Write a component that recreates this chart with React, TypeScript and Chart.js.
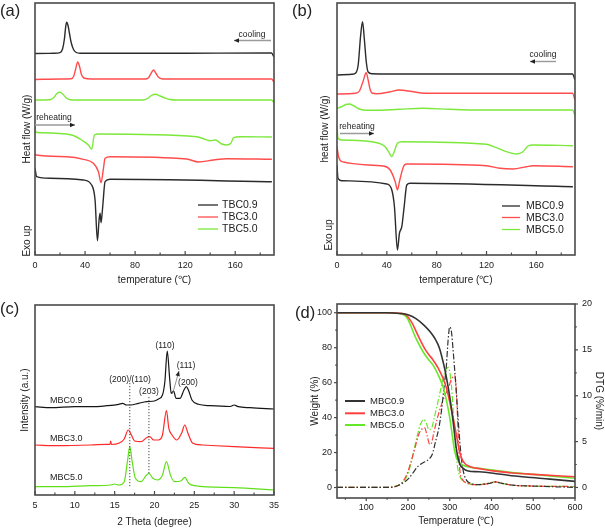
import React, { useEffect, useRef } from 'react';
import { Chart, registerables } from 'chart.js';
Chart.register(...registerables);

const FONT = '"Liberation Sans", Arial, Helvetica, sans-serif';
const TXT = '#222';
const FRAME = '#4a4a4a';

// ---------------- (a) DSC, TBC samples ----------------
const A_LABELS = ['TBC0.9', 'TBC3.0', 'TBC5.0'];
const aCoolBlackT = [0, 15, 20, 22, 23.5, 24.5, 25.3, 26.3, 27.5, 29, 31, 33, 36, 60, 120, 189, 191];
const aCoolBlackH = [201.5, 201.7, 202.3, 206, 216, 228, 232.7, 230, 222, 212, 205, 202.5, 201.8, 201.7, 201.8, 202, 198];
const aCoolRedT = [0, 20, 29, 31, 32.5, 34.1, 35.5, 37, 39, 45, 88, 90.5, 92.5, 94.7, 96.5, 98.5, 101, 110, 189, 191];
const aCoolRedH = [175.5, 176, 176.3, 179, 186, 193, 189, 181, 177, 176, 176, 177, 181, 185, 182, 178, 176.3, 176, 176, 173];
const aCoolGreenT = [0, 12, 15, 17.5, 20, 22.5, 25, 28, 35, 86, 90, 93, 96.5, 100, 104, 108, 113, 189, 191];
const aCoolGreenH = [155, 155.3, 157.5, 161.5, 162.7, 160.5, 157, 155.3, 155, 155, 156.5, 159.5, 160.7, 159, 157, 155.5, 155, 155, 152.5];
const aHeatGreenT = [0, 0.5, 4, 29.3, 37.3, 42.7, 45.3, 47.5, 50.7, 129.3, 136, 140, 144, 149.3, 153.3, 156.5, 158.7, 164, 189.3];
const aHeatGreenH = [129, 123, 122.3, 120, 115, 110, 106, 120, 121, 118.3, 115.7, 114.3, 115, 111, 110, 111.7, 117.3, 118.3, 118];
const aHeatRedT = [0, 0.8, 25.3, 38.7, 46.7, 50.7, 52.8, 54.7, 56, 60, 121.3, 130.7, 142.7, 153.3, 189.3];
const aHeatRedH = [101, 100, 98.3, 95.7, 91.7, 83.3, 72.3, 86.7, 96.7, 98.3, 96, 93, 95, 96.3, 95.7];
const aHeatBlackT = [0, 1.3, 12, 38.7, 45.3, 48, 49.9, 51.2, 52, 52.8, 54.1, 56, 60, 189.3];
const aHeatBlackH = [86.7, 78.3, 76.7, 75, 70, 55, 14.3, 35, 41.7, 32.3, 48.3, 73.3, 75.7, 73.3];

// ---------------- (b) DSC, MBC samples ----------------
const B_LABELS = ['MBC0.9', 'MBC3.0', 'MBC5.0'];
const bCoolBlackT = [0, 12, 15, 17, 19, 20.5, 22, 23.5, 25, 28, 60, 189, 191];
const bCoolBlackH = [180, 180.7, 182, 190, 220, 233.3, 215, 193, 183, 181.3, 181, 181, 175];
const bCoolRedT = [0, 15, 18, 21, 23.4, 25, 26.5, 28, 32, 42, 50, 60, 70, 189, 191];
const bCoolRedH = [161, 161.7, 164, 174, 182.3, 175, 166, 162, 161.3, 163, 165, 163.5, 161.7, 161.7, 155];
const bCoolGreenT = [0, 4, 7, 10, 13, 17, 21, 30, 50, 69, 90, 110, 189, 191];
const bCoolGreenH = [146.5, 148.5, 150.5, 151, 149.5, 146.5, 145, 144.7, 145.7, 146.7, 145.7, 145, 145, 140];
const bHeatGreenT = [0, 0.8, 4, 32, 38.7, 42.1, 44, 45.9, 48.5, 52, 120, 128, 136, 144, 149.3, 153.3, 157.3, 189.3];
const bHeatGreenH = [129, 116.7, 115, 112.3, 108.3, 101.7, 98.3, 103.3, 111.7, 113.3, 110.7, 107.3, 103.3, 101, 103.3, 109, 110, 109.3];
const bHeatRedT = [0, 1.3, 4, 37.3, 42.7, 46.7, 48.5, 50.1, 53.3, 56, 120, 130.7, 141.3, 152, 157.3, 189.3];
const bHeatRedH = [108.3, 98.3, 93.3, 89, 85, 73.3, 65, 73.3, 88.3, 91, 89.3, 86.7, 86, 88.3, 89.3, 88.3];
const bHeatBlackT = [0, 0.8, 4, 40, 44, 46.1, 48.5, 50.1, 52, 53.9, 56, 58.7, 189.3];
const bHeatBlackH = [90, 76.7, 74.3, 71, 65, 48.3, 5, 21.7, 28.3, 48.3, 70, 71.7, 68.3];

// ---------------- (c) XRD ----------------
const C_LABELS = ['MBC0.9', 'MBC3.0', 'MBC5.0'];
const cBlackT = [5, 7, 10, 12, 14, 15.5, 16, 16.5, 17, 18, 19, 20, 20.5, 21, 21.3, 21.6, 21.9, 22.1, 22.4, 22.7, 23.2, 23.7, 24, 24.3, 24.7, 25.5, 27, 29.5, 30, 30.5, 32, 35];
const cBlackI = [88.3, 87.3, 88.3, 88.3, 89.3, 90.7, 91.7, 90, 90, 91.7, 93.3, 94, 96, 100, 113.3, 144, 116.7, 101.7, 104, 96.7, 96.7, 105, 108.3, 104, 95, 90.7, 89.3, 88.5, 90, 88.3, 87.3, 86];
const cRedT = [5, 8, 12, 14, 14.4, 14.5, 14.6, 15.5, 16.2, 16.7, 17.1, 17.5, 18.3, 19, 19.4, 19.9, 20.5, 21, 21.5, 21.8, 22.2, 22.8, 23.4, 23.8, 24.2, 24.8, 26, 30, 35];
const cRedI = [50, 49.3, 50, 50.7, 50.5, 54, 50.5, 51.7, 56, 65, 60, 54, 53.3, 57.3, 58.3, 55, 55, 60, 84.3, 66.7, 60, 55, 61.7, 70, 61.7, 51.7, 50, 48.3, 46.7];
const cGreenT = [5, 8, 12, 14.5, 15, 15.5, 16.2, 16.6, 16.9, 17.2, 17.6, 18.3, 19, 19.3, 19.8, 20.4, 21, 21.5, 22, 22.5, 23.3, 23.8, 24.3, 25, 30, 35];
const cGreenI = [8.3, 8.3, 9.3, 10, 11, 10, 13.3, 33.3, 48.3, 33.3, 16.7, 13.3, 20, 21.7, 16.7, 15, 20, 33.3, 20, 13.3, 14, 17.7, 11.7, 9.3, 7.3, 5];
const C_PEAKS = ['(200)/(110)', '(203)', '(110)', '(111)', '(200)'];
const C_GUIDES = [16.9, 19.3];

// ---------------- (d) TGA / DTG ----------------
const D_LABELS = ['MBC0.9', 'MBC3.0', 'MBC5.0'];
const dBlackT = [30, 150, 180, 200, 220, 240, 255, 265, 275, 285, 292, 300, 308, 316, 324, 332, 344, 370, 404, 440, 480, 540, 600];
const dBlackW = [100, 100, 99.6, 98.8, 96.5, 92.5, 88.5, 85, 80, 71, 63, 52, 38, 22, 13.5, 11, 9.5, 9, 8.2, 7, 6, 4.8, 3.5];
const dRedT = [30, 150, 180, 196, 210, 220, 230, 240, 250, 260, 272, 284, 292, 300, 308, 316, 324, 332, 348, 380, 404, 450, 500, 600];
const dRedW = [100, 100, 99.7, 98.7, 94, 89, 84, 79.5, 76, 73, 68.5, 62.5, 57, 49, 40, 30, 20, 15, 12, 10.5, 9.5, 8.3, 7.5, 6.2];
const dGreenT = [30, 150, 175, 196, 206, 216, 226, 236, 248, 260, 272, 284, 292, 300, 306, 312, 318, 324, 340, 370, 404, 450, 500, 600];
const dGreenW = [100, 100, 99.7, 97.7, 93, 87, 82, 77.7, 73.5, 70, 64.5, 57.7, 50, 40, 30, 20.6, 16, 14, 12, 11, 10, 8.5, 7.5, 5.3];
const dtgBlackT = [30, 150, 170, 185, 200, 212, 224, 236, 248, 258, 266, 274, 280, 286, 292, 296, 300, 304, 308, 314, 320, 326, 332, 340, 348, 370, 395, 410, 425, 450, 500, 600];
const dtgBlackD = [0, 0, 0.1, 0.4, 0.9, 1.6, 2.3, 2.7, 3.0, 3.6, 5.0, 6.5, 8.3, 10.8, 13.3, 16.0, 17.5, 17.0, 15.0, 11.5, 7.5, 4.0, 1.9, 0.8, 0.5, 0.3, 0.45, 0.6, 0.45, 0.25, 0.15, 0];
const dtgRedT = [30, 150, 170, 185, 196, 206, 216, 226, 234, 240, 246, 252, 256, 262, 270, 280, 290, 298, 304, 312, 316, 320, 324, 330, 340, 360, 390, 410, 425, 450, 500, 600];
const dtgRedD = [0, 0, 0.1, 0.5, 1.3, 2.6, 4.2, 5.8, 6.4, 6.5, 5.6, 4.7, 4.8, 6.0, 7.5, 9.0, 10.2, 11.0, 11.8, 12.2, 10.5, 6.0, 2.0, 0.9, 0.5, 0.3, 0.4, 0.6, 0.45, 0.25, 0.15, 0.1];
const dtgGreenT = [30, 150, 170, 185, 196, 206, 214, 222, 230, 238, 244, 250, 256, 262, 270, 280, 288, 296, 302, 306, 310, 316, 322, 332, 340, 360, 390, 410, 425, 450, 500, 600];
const dtgGreenD = [0, 0, 0.15, 0.5, 1.1, 2.4, 4.0, 5.6, 6.9, 7.4, 7.0, 6.3, 6.4, 7.4, 9.0, 11.0, 12.5, 13.1, 12.0, 10.0, 7.0, 3.2, 1.5, 0.7, 0.5, 0.3, 0.45, 0.6, 0.45, 0.25, 0.15, 0.1];

// ---------------- colours ----------------
const BLACK = '#2b2b2b';
const RED = '#ff4d4d';
const GREEN = '#7be83a';
const C_BLACK = '#151515';
const C_RED = '#ff2a2a';
const C_GREEN = '#5fe01a';
const D_BLACK = '#333333';
const D_RED = '#ff4040';
const D_GREEN = '#66e82a';

function range(a: number, b: number, step: number) {
  const out: number[] = [];
  for (let v = a; v <= b + 1e-9; v += step) out.push(+v.toFixed(4));
  return out;
}

function series(label: string, T: number[], V: number[], color: string, extra: any = {}) {
  return {
    label,
    data: T.map((t, i) => ({ x: t, y: V[i] })),
    borderColor: color,
    backgroundColor: color,
    borderWidth: 1.4,
    pointRadius: 0,
    fill: false,
    cubicInterpolationMode: 'monotone',
    ...extra,
  };
}

function xScale(min: number, max: number, step: number, title: string, labelPad: number, titlePad: number, height: number) {
  return {
    type: 'linear',
    min,
    max,
    afterFit: (s: any) => { s.height = height; },
    grid: { display: false, drawTicks: false },
    border: { display: false },
    ticks: { stepSize: step, padding: labelPad, includeBounds: false, autoSkip: false, maxRotation: 0, color: TXT, font: { family: FONT, size: 9 } },
    title: { display: true, text: title, color: TXT, font: { family: FONT, size: 10 }, padding: { top: 0, bottom: titlePad } },
  };
}

function yHidden(min: number, max: number, title: string, titleOff: number, width: number) {
  return {
    type: 'linear',
    min,
    max,
    afterFit: (s: any) => { s.width = width; },
    grid: { display: false, drawTicks: false },
    border: { display: false },
    ticks: { display: false },
    title: { display: true, text: title, color: TXT, font: { family: FONT, size: 10 }, padding: { top: titleOff, bottom: 0 } },
  };
}

function yShown(min: number, max: number, step: number, title: string, titleOff: number, width: number, position: string, labelPad: number) {
  return {
    type: 'linear',
    position,
    min,
    max,
    afterFit: (s: any) => { s.width = width; },
    grid: { display: false, drawTicks: false },
    border: { display: false },
    ticks: { stepSize: step, padding: labelPad, includeBounds: false, color: TXT, font: { family: FONT, size: 9 } },
    title: { display: true, text: title, color: TXT, font: { family: FONT, size: 10 }, padding: { top: titleOff, bottom: 0 } },
  };
}

type TickSpec = { axis: string; side: 'bottom' | 'left' | 'right'; major: number[]; minor: number[]; inward: boolean; len: number };
type TextSpec = { t: string; x: number; y: number; size: number; align?: CanvasTextAlign; rot?: boolean };
type ArrowSpec = { x1: number; y1: number; x2: number; y2: number; color: string; head: string; lw: number };
type LegendSpec = { x1: number; x2: number; tx: number; ys: number[]; size: number; lw: number; items: { label: string; color: string }[] };
type DecorSpec = { ticks: TickSpec[]; texts: TextSpec[]; arrows: ArrowSpec[]; dotted?: { x: number; y1: number; y2: number }[]; legend?: LegendSpec };

function decor(spec: DecorSpec) {
  return {
    id: 'decor',
    afterDraw(chart: any) {
      const ctx: CanvasRenderingContext2D = chart.ctx;
      const ca = chart.chartArea;
      ctx.save();
      if (spec.dotted) {
        ctx.strokeStyle = '#444';
        ctx.lineWidth = 1;
        ctx.setLineDash([1.2, 1.8]);
        for (const d of spec.dotted) {
          const px = chart.scales.x.getPixelForValue(d.x);
          ctx.beginPath();
          ctx.moveTo(px, chart.scales.y.getPixelForValue(d.y1));
          ctx.lineTo(px, chart.scales.y.getPixelForValue(d.y2));
          ctx.stroke();
        }
        ctx.setLineDash([]);
      }
      ctx.strokeStyle = FRAME;
      ctx.lineWidth = 1.2;
      for (const tk of spec.ticks) {
        const sc = chart.scales[tk.axis];
        const dir = tk.inward ? -1 : 1;
        const draw = (v: number, len: number) => {
          const p = sc.getPixelForValue(v);
          ctx.beginPath();
          if (tk.side === 'bottom') { ctx.moveTo(p, ca.bottom); ctx.lineTo(p, ca.bottom + dir * len); }
          else if (tk.side === 'left') { ctx.moveTo(ca.left, p); ctx.lineTo(ca.left - dir * len, p); }
          else { ctx.moveTo(ca.right, p); ctx.lineTo(ca.right + dir * len, p); }
          ctx.stroke();
        };
        tk.major.forEach((v) => draw(v, tk.len));
        tk.minor.forEach((v) => draw(v, tk.len * 0.6));
      }
      ctx.lineWidth = 1.6;
      ctx.strokeRect(ca.left, ca.top, ca.right - ca.left, ca.bottom - ca.top);
      for (const a of spec.arrows) {
        ctx.strokeStyle = a.color;
        ctx.lineWidth = a.lw;
        ctx.beginPath();
        ctx.moveTo(a.x1, a.y1);
        ctx.lineTo(a.x2, a.y2);
        ctx.stroke();
        const ang = Math.atan2(a.y2 - a.y1, a.x2 - a.x1);
        const L = 5, W = 2.2;
        ctx.fillStyle = a.head;
        ctx.beginPath();
        ctx.moveTo(a.x2, a.y2);
        ctx.lineTo(a.x2 - L * Math.cos(ang) + W * Math.sin(ang), a.y2 - L * Math.sin(ang) - W * Math.cos(ang));
        ctx.lineTo(a.x2 - L * Math.cos(ang) - W * Math.sin(ang), a.y2 - L * Math.sin(ang) + W * Math.cos(ang));
        ctx.closePath();
        ctx.fill();
      }
      ctx.fillStyle = TXT;
      ctx.textBaseline = 'middle';
      for (const t of spec.texts) {
        ctx.font = `${t.size}px ${FONT}`;
        ctx.textAlign = t.align ?? 'center';
        if (t.rot) {
          ctx.save();
          ctx.translate(t.x, t.y);
          ctx.rotate(-Math.PI / 2);
          ctx.fillText(t.t, 0, 0);
          ctx.restore();
        } else {
          ctx.fillText(t.t, t.x, t.y);
        }
      }
      if (spec.legend) {
        const lg = spec.legend;
        ctx.font = `${lg.size}px ${FONT}`;
        ctx.textAlign = 'left';
        lg.items.forEach((it, i) => {
          const y = lg.ys[i];
          ctx.strokeStyle = it.color;
          ctx.lineWidth = lg.lw;
          ctx.beginPath();
          ctx.moveTo(lg.x1, y);
          ctx.lineTo(lg.x2, y);
          ctx.stroke();
          ctx.fillStyle = TXT;
          ctx.fillText(it.label, lg.tx, y + 0.5);
        });
      }
      ctx.restore();
    },
  };
}

function baseOptions(padding: any, scales: any) {
  return {
    animation: false,
    responsive: false,
    devicePixelRatio: 1,
    layout: { padding },
    plugins: { legend: { display: false }, tooltip: { enabled: false }, title: { display: false } },
    elements: { point: { radius: 0 } },
    scales,
  };
}

function configA() {
  return {
    type: 'line',
    data: {
      datasets: [
        series(A_LABELS[0], aCoolBlackT, aCoolBlackH, BLACK),
        series(A_LABELS[1], aCoolRedT, aCoolRedH, RED),
        series(A_LABELS[2], aCoolGreenT, aCoolGreenH, GREEN),
        series(A_LABELS[2], aHeatGreenT, aHeatGreenH, GREEN),
        series(A_LABELS[1], aHeatRedT, aHeatRedH, RED),
        series(A_LABELS[0], aHeatBlackT, aHeatBlackH, BLACK),
      ],
    },
    options: baseOptions({ left: 0, right: 26, top: 3, bottom: 0 }, {
      x: xScale(0, 191, 40, 'temperature (\u2103)', 5, 4, 35),
      y: yHidden(0, 252, 'Heat flow (W/g)', 21, 35),
    }),
    plugins: [decor({
      ticks: [{ axis: 'x', side: 'bottom', major: range(0, 160, 40), minor: range(20, 180, 40), inward: true, len: 4 }],
      texts: [
        { t: 'cooling', x: 252, y: 35, size: 8.5 },
        { t: 'reheating', x: 54, y: 118, size: 8.5 },
        { t: 'Exo up', x: 27, y: 241, size: 10, rot: true },
      ],
      arrows: [
        { x1: 271, y1: 40.5, x2: 234, y2: 40.5, color: '#9a9a9a', head: '#222', lw: 1.4 },
        { x1: 35, y1: 125, x2: 75, y2: 125, color: '#9a9a9a', head: '#222', lw: 1.4 },
      ],
      legend: { x1: 198, x2: 218, tx: 222, ys: [205, 217, 229], size: 10.5, lw: 1.3, items: [
        { label: A_LABELS[0], color: BLACK }, { label: A_LABELS[1], color: RED }, { label: A_LABELS[2], color: GREEN },
      ] },
    })],
  };
}

function configB() {
  return {
    type: 'line',
    data: {
      datasets: [
        series(B_LABELS[0], bCoolBlackT, bCoolBlackH, BLACK),
        series(B_LABELS[1], bCoolRedT, bCoolRedH, RED),
        series(B_LABELS[2], bCoolGreenT, bCoolGreenH, GREEN),
        series(B_LABELS[2], bHeatGreenT, bHeatGreenH, GREEN),
        series(B_LABELS[1], bHeatRedT, bHeatRedH, RED),
        series(B_LABELS[0], bHeatBlackT, bHeatBlackH, BLACK),
      ],
    },
    options: baseOptions({ left: 0, right: 30, top: 3, bottom: 0 }, {
      x: xScale(0, 191, 40, 'temperature (\u2103)', 5, 4, 35),
      y: yHidden(0, 252, 'heat flow (W/g)', 19, 37),
    }),
    plugins: [decor({
      ticks: [{ axis: 'x', side: 'bottom', major: range(0, 160, 40), minor: range(20, 180, 40), inward: true, len: 4 }],
      texts: [
        { t: 'cooling', x: 243, y: 55, size: 8.5 },
        { t: 'reheating', x: 57, y: 127, size: 8.5 },
        { t: 'Exo up', x: 29, y: 235, size: 10, rot: true },
      ],
      arrows: [
        { x1: 256, y1: 61.5, x2: 230, y2: 61.5, color: '#9a9a9a', head: '#222', lw: 1.4 },
        { x1: 40, y1: 133.5, x2: 74, y2: 133.5, color: '#9a9a9a', head: '#222', lw: 1.4 },
      ],
      legend: { x1: 202, x2: 220, tx: 226, ys: [206, 217.5, 229.5], size: 10.5, lw: 1.3, items: [
        { label: B_LABELS[0], color: BLACK }, { label: B_LABELS[1], color: RED }, { label: B_LABELS[2], color: GREEN },
      ] },
    })],
  };
}

function configC() {
  return {
    type: 'line',
    data: {
      datasets: [
        series(C_LABELS[0], cBlackT, cBlackI, C_BLACK, { borderWidth: 1.2 }),
        series(C_LABELS[1], cRedT, cRedI, C_RED, { borderWidth: 1.2 }),
        series(C_LABELS[2], cGreenT, cGreenI, C_GREEN, { borderWidth: 1.2 }),
      ],
    },
    options: baseOptions({ left: 0, right: 26, top: 15, bottom: 0 }, {
      x: xScale(5, 35, 5, '2 Theta (degree)', 5.5, 1, 34),
      y: yHidden(0, 190, 'Intensity (a.u.)', 19, 35),
    }),
    plugins: [decor({
      ticks: [{ axis: 'x', side: 'bottom', major: range(5, 35, 5), minor: range(7.5, 32.5, 5), inward: true, len: 4 }],
      dotted: [
        { x: C_GUIDES[0], y1: 112, y2: 8 },
        { x: C_GUIDES[1], y1: 98, y2: 21 },
      ],
      texts: [
        { t: C_LABELS[0], x: 50, y: 111, size: 9, align: 'left' },
        { t: C_LABELS[1], x: 50, y: 148.5, size: 9, align: 'left' },
        { t: C_LABELS[2], x: 50, y: 187.5, size: 9, align: 'left' },
        { t: C_PEAKS[0], x: 130, y: 89.5, size: 8.5 },
        { t: C_PEAKS[1], x: 149, y: 102, size: 8.5 },
        { t: C_PEAKS[2], x: 165, y: 56, size: 8.5 },
        { t: C_PEAKS[3], x: 186, y: 76, size: 8.5 },
        { t: C_PEAKS[4], x: 188, y: 92.5, size: 8.5 },
      ],
      arrows: [
        { x1: 172.5, y1: 104, x2: 179, y2: 81, color: '#777', head: '#222', lw: 0.8 },
      ],
    })],
  };
}

function configD() {
  const dash = { borderDash: [6, 2, 1.5, 2], borderWidth: 1.2, yAxisID: 'y1' };
  return {
    type: 'line',
    data: {
      datasets: [
        series(D_LABELS[0], dBlackT, dBlackW, D_BLACK, { borderWidth: 1.6, yAxisID: 'y' }),
        series(D_LABELS[1], dRedT, dRedW, D_RED, { borderWidth: 1.6, yAxisID: 'y' }),
        series(D_LABELS[2], dGreenT, dGreenW, D_GREEN, { borderWidth: 1.6, yAxisID: 'y' }),
        series(D_LABELS[0] + ' DTG', dtgBlackT, dtgBlackD, D_BLACK, dash),
        series(D_LABELS[1] + ' DTG', dtgRedT, dtgRedD, D_RED, dash),
        series(D_LABELS[2] + ' DTG', dtgGreenT, dtgGreenD, D_GREEN, dash),
      ],
    },
    options: baseOptions({ left: 0, right: 0, top: 14, bottom: 0 }, {
      x: xScale(30, 600, 100, 'Temperature (\u2103)', 4, 1.5, 31),
      y: yShown(-6, 105, 20, 'Weight (%)', 9, 37, 'left', 5),
      y1: yShown(-1.15, 20, 5, 'DTG (%/min)', 0, 30, 'right', 7),
    }),
    plugins: [decor({
      ticks: [
        { axis: 'x', side: 'bottom', major: range(100, 600, 100), minor: range(50, 550, 100), inward: false, len: 3 },
        { axis: 'y', side: 'left', major: range(0, 100, 20), minor: range(10, 90, 20), inward: false, len: 3 },
        { axis: 'y1', side: 'right', major: range(0, 20, 5), minor: range(2.5, 17.5, 5), inward: false, len: 3 },
      ],
      texts: [],
      arrows: [],
      legend: { x1: 45, x2: 65, tx: 70, ys: [111, 123.3, 135], size: 9.5, lw: 2, items: [
        { label: D_LABELS[0], color: D_BLACK }, { label: D_LABELS[1], color: D_RED }, { label: D_LABELS[2], color: D_GREEN },
      ] },
    })],
  };
}

function ChartPanel({ left, top, width, height, make }: { left: number; top: number; width: number; height: number; make: () => any }) {
  const ref = useRef<HTMLCanvasElement>(null);
  useEffect(() => {
    const chart = new Chart(ref.current as HTMLCanvasElement, make());
    return () => chart.destroy();
  }, []);
  return <canvas ref={ref} width={width} height={height} style={{ position: 'absolute', left, top, width, height }} />;
}

const PANEL_TAGS = ['(a)', '(b)', '(c)', '(d)'];

export default function App() {
  const tag = (t: string, left: number, top: number) => (
    <div style={{ position: 'absolute', left, top, fontFamily: FONT, fontSize: 16.5, lineHeight: '16px', color: TXT, whiteSpace: 'nowrap' }}>{t}</div>
  );
  return (
    <div style={{ position: 'absolute', left: 0, top: 0, width: 605, height: 529, background: '#fff', overflow: 'hidden' }}>
      <ChartPanel left={0} top={0} width={300} height={290} make={configA} />
      <ChartPanel left={300} top={0} width={305} height={290} make={configB} />
      <ChartPanel left={0} top={290} width={300} height={239} make={configC} />
      <ChartPanel left={300} top={290} width={305} height={239} make={configD} />
      {tag(PANEL_TAGS[0], 0, 2)}
      {tag(PANEL_TAGS[1], 292, 2)}
      {tag(PANEL_TAGS[2], 0, 300)}
      {tag(PANEL_TAGS[3], 295, 304)}
    </div>
  );
}
